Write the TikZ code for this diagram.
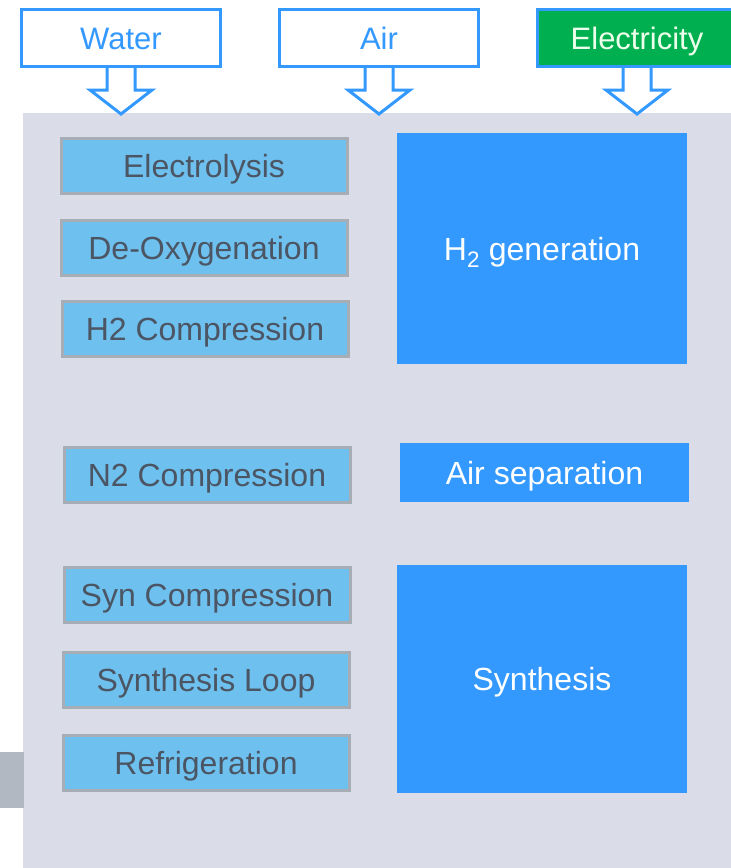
\documentclass[tikz,border=0pt]{standalone}
\usepackage{fontspec}
\setmainfont{Liberation Sans}
\usetikzlibrary{calc}

\definecolor{panelgray}{RGB}{218,221,232}
\definecolor{flowblue}{RGB}{51,153,255}
\definecolor{unitblue}{RGB}{110,192,238}
\definecolor{unitedge}{RGB}{166,173,181}
\definecolor{unittext}{RGB}{75,85,99}
\definecolor{powergreen}{RGB}{0,176,80}
\definecolor{tabgray}{RGB}{177,184,193}

\begin{document}
\begin{tikzpicture}[x=1pt,y=-1pt,
    inbox/.style={draw=flowblue, line width=3pt, fill=white, text=flowblue,
        minimum width=199pt, minimum height=57pt, inner sep=0pt,
        text height=22pt, text depth=0pt,
        font=\fontsize{31}{36}\selectfont},
    unitbox/.style={draw=unitedge, line width=3pt, fill=unitblue, text=unittext,
        minimum width=286pt, minimum height=55pt, inner sep=0pt,
        text height=23pt, text depth=0pt,
        font=\fontsize{32}{38}\selectfont},
    blockbox/.style={fill=flowblue, text=white, minimum width=290pt,
        inner sep=0pt, text height=23pt, text depth=0pt,
        font=\fontsize{32}{38}\selectfont},
    inarrow/.style={draw=flowblue, line width=3pt, fill=white, line join=miter}]
    \useasboundingbox (0,0) rectangle (731,868);

    % background panel
    \fill[panelgray] (23,113) rectangle (731,868);
    \fill[tabgray] (0,752) rectangle (24,808);

    % inputs
    \node[inbox] (water) at (121,38) {Water};
    \node[inbox] (air) at (379,38) {Air};
    \node[inbox, fill=powergreen, text=white!92!green] (power) at (637,38) {Electricity};
    \foreach \n in {water,air,power}
        \draw[inarrow] (\n.south) ++(-14,0) -- ++(0,22) -- ++(-17,0) -- ++(31,24)
            -- ++(31,-24) -- ++(-17,0) -- ++(0,-22);

    % process units
    \node[unitbox] (elec) at (204,166) {Electrolysis};
    \node[unitbox] (deox) at (204,248) {De-Oxygenation};
    \node[unitbox] (htwo) at (205,329) {H2 Compression};
    \node[unitbox] (ntwo) at (207,475) {N2 Compression};
    \node[unitbox] (syncomp) at (207,595) {Syn Compression};
    \node[unitbox] (loop) at (206,680) {Synthesis Loop};
    \node[unitbox] (refr) at (206,763) {Refrigeration};

    % main blocks
    \node[blockbox, minimum height=231pt] (hgen) at (542,248.5) {H\textsubscript{2} generation};
    \node[blockbox, minimum width=289pt, minimum height=59pt] (asep) at (544.5,472.5) {Air separation};
    \node[blockbox, minimum height=228pt] (synth) at (542,679) {Synthesis};
\end{tikzpicture}
\end{document}
